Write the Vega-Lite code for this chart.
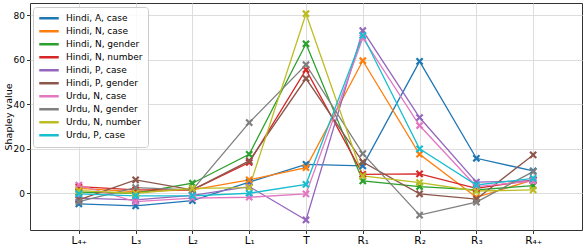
{
  "$schema": "https://vega.github.io/schema/vega-lite/v6.json",
  "width": 552,
  "height": 227,
  "autosize": {"type": "none"},
  "padding": {"left": 30, "top": 3, "right": 4, "bottom": 18},
  "background": "white",
  "config": {
    "font": "DejaVu Sans",
    "view": {"stroke": "#333333", "strokeWidth": 1},
    "axis": {"gridColor": "#dddddd", "gridWidth": 1, "tickColor": "#333333", "domain": false, "labelColor": "#000000", "labelFontSize": 9, "titleFontSize": 9.5, "titleFontWeight": "normal", "titleColor": "#000000", "tickSize": 3.5}
  },
  "datasets": {
    "d": [
      {"s": "Hindi, A, case", "x": "L4", "v": -4.8}, {"s": "Hindi, A, case", "x": "L3", "v": -5.7}, {"s": "Hindi, A, case", "x": "L2", "v": -3.3}, {"s": "Hindi, A, case", "x": "L1", "v": 5}, {"s": "Hindi, A, case", "x": "T", "v": 13}, {"s": "Hindi, A, case", "x": "R1", "v": 12.3}, {"s": "Hindi, A, case", "x": "R2", "v": 59.2}, {"s": "Hindi, A, case", "x": "R3", "v": 15.7}, {"s": "Hindi, A, case", "x": "R4", "v": 10},
      {"s": "Hindi, N, case", "x": "L4", "v": 2.2}, {"s": "Hindi, N, case", "x": "L3", "v": 0.7}, {"s": "Hindi, N, case", "x": "L2", "v": 1.5}, {"s": "Hindi, N, case", "x": "L1", "v": 6}, {"s": "Hindi, N, case", "x": "T", "v": 11.5}, {"s": "Hindi, N, case", "x": "R1", "v": 59.5}, {"s": "Hindi, N, case", "x": "R2", "v": 17.5}, {"s": "Hindi, N, case", "x": "R3", "v": -1.8}, {"s": "Hindi, N, case", "x": "R4", "v": 6},
      {"s": "Hindi, N, gender", "x": "L4", "v": 0.5}, {"s": "Hindi, N, gender", "x": "L3", "v": 0}, {"s": "Hindi, N, gender", "x": "L2", "v": 4.5}, {"s": "Hindi, N, gender", "x": "L1", "v": 17.5}, {"s": "Hindi, N, gender", "x": "T", "v": 67.1}, {"s": "Hindi, N, gender", "x": "R1", "v": 5.5}, {"s": "Hindi, N, gender", "x": "R2", "v": 3}, {"s": "Hindi, N, gender", "x": "R3", "v": 1.5}, {"s": "Hindi, N, gender", "x": "R4", "v": 3.4},
      {"s": "Hindi, N, number", "x": "L4", "v": 3}, {"s": "Hindi, N, number", "x": "L3", "v": 1.5}, {"s": "Hindi, N, number", "x": "L2", "v": 1.5}, {"s": "Hindi, N, number", "x": "L1", "v": 13.8}, {"s": "Hindi, N, number", "x": "T", "v": 55.5}, {"s": "Hindi, N, number", "x": "R1", "v": 8.5}, {"s": "Hindi, N, number", "x": "R2", "v": 8.7}, {"s": "Hindi, N, number", "x": "R3", "v": 2.2}, {"s": "Hindi, N, number", "x": "R4", "v": 6},
      {"s": "Hindi, P, case", "x": "L4", "v": -2.2}, {"s": "Hindi, P, case", "x": "L3", "v": -3}, {"s": "Hindi, P, case", "x": "L2", "v": -1}, {"s": "Hindi, P, case", "x": "L1", "v": 3}, {"s": "Hindi, P, case", "x": "T", "v": -12}, {"s": "Hindi, P, case", "x": "R1", "v": 73}, {"s": "Hindi, P, case", "x": "R2", "v": 34}, {"s": "Hindi, P, case", "x": "R3", "v": 5}, {"s": "Hindi, P, case", "x": "R4", "v": 5.5},
      {"s": "Hindi, P, gender", "x": "L4", "v": -3}, {"s": "Hindi, P, gender", "x": "L3", "v": 6}, {"s": "Hindi, P, gender", "x": "L2", "v": 1.5}, {"s": "Hindi, P, gender", "x": "L1", "v": 14.5}, {"s": "Hindi, P, gender", "x": "T", "v": 51.5}, {"s": "Hindi, P, gender", "x": "R1", "v": 14}, {"s": "Hindi, P, gender", "x": "R2", "v": -0.3}, {"s": "Hindi, P, gender", "x": "R3", "v": -2.6}, {"s": "Hindi, P, gender", "x": "R4", "v": 17.2},
      {"s": "Urdu, N, case", "x": "L4", "v": 3.7}, {"s": "Urdu, N, case", "x": "L3", "v": -3.8}, {"s": "Urdu, N, case", "x": "L2", "v": -2.2}, {"s": "Urdu, N, case", "x": "L1", "v": -1.8}, {"s": "Urdu, N, case", "x": "T", "v": -0.3}, {"s": "Urdu, N, case", "x": "R1", "v": 69.7}, {"s": "Urdu, N, case", "x": "R2", "v": 30.4}, {"s": "Urdu, N, case", "x": "R3", "v": 3}, {"s": "Urdu, N, case", "x": "R4", "v": 5.5},
      {"s": "Urdu, N, gender", "x": "L4", "v": -3.8}, {"s": "Urdu, N, gender", "x": "L3", "v": 2.5}, {"s": "Urdu, N, gender", "x": "L2", "v": 1.5}, {"s": "Urdu, N, gender", "x": "L1", "v": 31.7}, {"s": "Urdu, N, gender", "x": "T", "v": 57.7}, {"s": "Urdu, N, gender", "x": "R1", "v": 17.8}, {"s": "Urdu, N, gender", "x": "R2", "v": -9.8}, {"s": "Urdu, N, gender", "x": "R3", "v": -4}, {"s": "Urdu, N, gender", "x": "R4", "v": 9.7},
      {"s": "Urdu, N, number", "x": "L4", "v": 1.2}, {"s": "Urdu, N, number", "x": "L3", "v": 0}, {"s": "Urdu, N, number", "x": "L2", "v": 2.2}, {"s": "Urdu, N, number", "x": "L1", "v": 2.5}, {"s": "Urdu, N, number", "x": "T", "v": 80.6}, {"s": "Urdu, N, number", "x": "R1", "v": 7.8}, {"s": "Urdu, N, number", "x": "R2", "v": 4.8}, {"s": "Urdu, N, number", "x": "R3", "v": 1}, {"s": "Urdu, N, number", "x": "R4", "v": 1.5},
      {"s": "Urdu, P, case", "x": "L4", "v": -0.3}, {"s": "Urdu, P, case", "x": "L3", "v": -1.2}, {"s": "Urdu, P, case", "x": "L2", "v": -1.2}, {"s": "Urdu, P, case", "x": "L1", "v": 0}, {"s": "Urdu, P, case", "x": "T", "v": 4}, {"s": "Urdu, P, case", "x": "R1", "v": 70.8}, {"s": "Urdu, P, case", "x": "R2", "v": 19.9}, {"s": "Urdu, P, case", "x": "R3", "v": 3.7}, {"s": "Urdu, P, case", "x": "R4", "v": 6.7}
    ]
  },
  "data": {"name": "d"},
  "encoding": {
    "x": {
      "field": "x", "type": "ordinal",
      "scale": {"type": "point", "domain": ["L4", "L3", "L2", "L1", "T", "R1", "R2", "R3", "R4"], "padding": 0.86},
      "axis": {"title": null, "labelAngle": 0, "grid": true, "labelFontSize": 10.5,
        "labelExpr": "{'L4':'L₄₊','L3':'L₃','L2':'L₂','L1':'L₁','T':'T','R1':'R₁','R2':'R₂','R3':'R₃','R4':'R₄₊'}[datum.value]"}
    },
    "y": {
      "field": "v", "type": "quantitative",
      "scale": {"domain": [-16.5, 85.4], "nice": false, "zero": false},
      "axis": {"title": "Shapley value", "values": [0, 20, 40, 60, 80], "grid": true, "titlePadding": 0}
    },
    "color": {
      "field": "s", "type": "nominal",
      "scale": {
        "domain": ["Hindi, A, case", "Hindi, N, case", "Hindi, N, gender", "Hindi, N, number", "Hindi, P, case", "Hindi, P, gender", "Urdu, N, case", "Urdu, N, gender", "Urdu, N, number", "Urdu, P, case"],
        "range": ["#1f77b4", "#ff7f0e", "#2ca02c", "#d62728", "#9467bd", "#8c564b", "#e377c2", "#7f7f7f", "#bcbd22", "#17becf"]
      }
    }
  },
  "layer": [
    {
      "mark": {"type": "line", "strokeWidth": 1.3},
      "encoding": {
        "color": {
          "field": "s", "type": "nominal",
          "legend": {
            "title": null, "orient": "none", "legendX": 3, "legendY": 4,
            "symbolType": "stroke", "symbolSize": 380, "symbolStrokeWidth": 2.5,
            "labelFontSize": 9, "labelColor": "#000000", "rowPadding": 0, "labelOffset": 6,
            "fillColor": "rgba(255,255,255,0.85)", "strokeColor": "#cccccc", "padding": 5, "cornerRadius": 3,
            "clipHeight": 12.7
          }
        }
      }
    },
    {
      "mark": {"type": "point", "shape": "M-1,-1L1,1M-1,1L1,-1", "filled": false, "strokeWidth": 2.2, "size": 38, "opacity": 1},
      "encoding": {"color": {"field": "s", "type": "nominal", "legend": null}}
    }
  ]
}
